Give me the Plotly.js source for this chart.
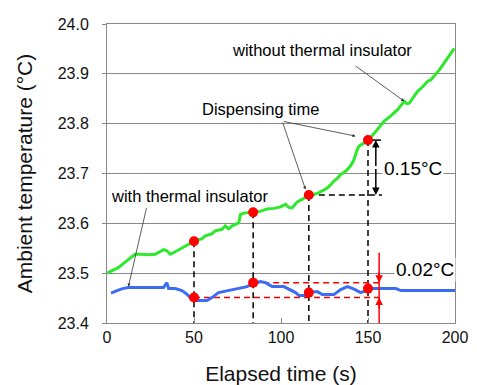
<!DOCTYPE html>
<html>
<head>
<meta charset="utf-8">
<script src="https://cdn.plot.ly/plotly-3.0.1.min.js"></script>
<style>html,body{margin:0;padding:0;background:#fff;}#chart{width:477px;height:385px;}</style>
</head>
<body>
<div id="chart"></div>
<script>
// ---- data ----
const greenTime = [0,3,6.5,9,12.3,16.1,20,24,27.7,30.5,32.5,34.4,36.3,38.2,40.2,43,46.9,50,54.6,56.5,60.3,62.2,66.1,68,69.9,71.9,75.7,76.7,79.5,84,88,92,96,99.7,102.6,104.5,106.4,109.3,112.2,115.5,118,120.9,123.7,126.6,128.5,130.4,132.3,134.3,136.2,138.2,140.1,142,143.5,144.8,147.7,150,152.7,155.4,159.3,163,167,170.8,172.3,173.7,176,178.5,181.4,184.3,186.2,188.6,191,195,199.6];
const greenTemp = [23.500,23.505,23.511,23.518,23.528,23.538,23.538,23.537,23.538,23.543,23.547,23.545,23.538,23.541,23.545,23.551,23.558,23.564,23.569,23.575,23.579,23.585,23.588,23.595,23.589,23.595,23.601,23.618,23.621,23.622,23.624,23.629,23.630,23.633,23.638,23.632,23.631,23.643,23.648,23.656,23.658,23.660,23.665,23.671,23.677,23.685,23.690,23.698,23.702,23.708,23.716,23.728,23.745,23.755,23.761,23.767,23.777,23.788,23.805,23.815,23.828,23.845,23.840,23.841,23.852,23.865,23.874,23.885,23.888,23.897,23.908,23.928,23.951];

const blueTime = [2.3,4,6.5,9,12.3,20,28,32.5,34.4,35.4,39.2,43,45.9,47.8,50,51.7,57.5,60.3,64.1,69.9,73.8,76.7,80.5,84.3,88.2,91.1,94.9,101.6,104.5,108.4,110.3,114.1,115.8,120.9,123.7,130.4,134.3,138.2,142,145.8,148.7,150.4,157.3,166,168.9,200];
const blueTemp = [23.460,23.463,23.466,23.469,23.471,23.471,23.471,23.471,23.481,23.469,23.469,23.465,23.458,23.451,23.451,23.445,23.445,23.451,23.461,23.465,23.468,23.471,23.473,23.480,23.483,23.481,23.473,23.473,23.468,23.461,23.455,23.455,23.461,23.463,23.457,23.457,23.467,23.473,23.468,23.461,23.465,23.469,23.469,23.469,23.465,23.465];

const dispenseTimes = [50, 84, 116, 150];
const greenDots = [23.564, 23.622, 23.657, 23.767];
const blueDots = [23.451, 23.481, 23.461, 23.469];

const xTicks = [0, 50, 100, 150, 200];
const yTicks = [23.4, 23.5, 23.6, 23.7, 23.8, 23.9, 24.0];
const yMin = 23.4, yMax = 24.0;
const spanEnd = 157.5;     // end of the span markers (s)
const markerX = 154.5;     // 0.15 deg arrow position
const redX = 156.4;        // 0.02 deg arrow position

// ---- traces ----
const FONT = '"Liberation Sans", Arial, Helvetica, sans-serif';
const traces = [];

// black dashed verticals from green dots down to axis
dispenseTimes.forEach((t, i) => {
  traces.push({x:[t,t], y:[greenDots[i], yMin], mode:'lines', line:{color:'#000', width:1.5, dash:'6px,4px'}, hoverinfo:'skip', showlegend:false});
});
// black dashed horizontal from 3rd green dot
traces.push({x:[dispenseTimes[2], spanEnd+0.5], y:[greenDots[2], greenDots[2]], mode:'lines', line:{color:'#000', width:1.5, dash:'6px,4px'}, showlegend:false});
// red dashed horizontals
const blueMax = Math.max(...blueDots), blueMin = Math.min(...blueDots);
traces.push({x:[dispenseTimes[blueDots.indexOf(blueMax)], spanEnd+0.5], y:[blueMax, blueMax], mode:'lines', line:{color:'#ff0000', width:1.5, dash:'6px,4px'}, showlegend:false});
traces.push({x:[dispenseTimes[blueDots.indexOf(blueMin)], spanEnd+0.5], y:[blueMin, blueMin], mode:'lines', line:{color:'#ff0000', width:1.5, dash:'6px,4px'}, showlegend:false});

// series
traces.push({x:greenTime, y:greenTemp, mode:'lines', line:{color:'#2ee82e', width:3}, showlegend:false});
traces.push({x:blueTime, y:blueTemp, mode:'lines', line:{color:'#3a6cf4', width:3}, showlegend:false});

// red vertical line
traces.push({x:[redX, redX], y:[23.541, 23.398], mode:'lines', line:{color:'#ff0000', width:1.5}, showlegend:false, cliponaxis:false});
// black caps at top of 0.15 span
traces.push({x:[markerX-2.5, markerX+3], y:[greenDots[3], greenDots[3]], mode:'lines', line:{color:'#000', width:1.5}, showlegend:false});

// red dots
traces.push({x:dispenseTimes, y:greenDots, mode:'markers', marker:{color:'#ff0000', size:10}, showlegend:false});
traces.push({x:dispenseTimes, y:blueDots, mode:'markers', marker:{color:'#ff0000', size:10}, showlegend:false});

// ---- annotations ----
const tf = {family:FONT, size:16.5, color:'#000'};
const big = {family:FONT, size:19, color:'#000'};
const annotations = [
  {x:123.7, y:23.947, xref:'x', yref:'y', text:'without thermal insulator', showarrow:false, font:tf},
  {x:88.2, y:23.829, xref:'x', yref:'y', text:'Dispensing time', showarrow:false, font:tf},
  {x:47.3, y:23.655, xref:'x', yref:'y', text:'with thermal insulator', showarrow:false, font:tf},
  {x:175.8, y:23.711, xref:'x', yref:'y', text:'0.15°C', showarrow:false, font:big, bgcolor:'#fff'},
  {x:182.7, y:23.508, xref:'x', yref:'y', text:'0.02°C', showarrow:false, font:big, bgcolor:'#fff'},
  // thin pointer arrows
  {x:170.8, y:23.845, ax:142, ay:23.918, axref:'x', ayref:'y', xref:'x', yref:'y', text:'', showarrow:true, arrowhead:2, arrowsize:0.8, arrowwidth:0.8, arrowcolor:'#333', standoff:0},
  {x:142.9, y:23.775, ax:100.7, ay:23.805, axref:'x', ayref:'y', xref:'x', yref:'y', text:'', showarrow:true, arrowhead:2, arrowsize:0.8, arrowwidth:0.8, arrowcolor:'#333', standoff:0},
  {x:114.1, y:23.668, ax:100.7, ay:23.805, axref:'x', ayref:'y', xref:'x', yref:'y', text:'', showarrow:true, arrowhead:2, arrowsize:0.8, arrowwidth:0.8, arrowcolor:'#333', standoff:0},
  {x:12.3, y:23.473, ax:22.9, ay:23.634, axref:'x', ayref:'y', xref:'x', yref:'y', text:'', showarrow:true, arrowhead:2, arrowsize:0.8, arrowwidth:0.8, arrowcolor:'#333', standoff:0},
  // 0.15 double arrow
  {x:markerX, y:greenDots[3], ax:markerX, ay:(greenDots[3]+greenDots[2])/2, axref:'x', ayref:'y', xref:'x', yref:'y', text:'', showarrow:true, arrowhead:2, arrowsize:1, arrowwidth:1.5, arrowcolor:'#000', standoff:0},
  {x:markerX, y:greenDots[2], ax:markerX, ay:(greenDots[3]+greenDots[2])/2, axref:'x', ayref:'y', xref:'x', yref:'y', text:'', showarrow:true, arrowhead:2, arrowsize:1, arrowwidth:1.5, arrowcolor:'#000', standoff:0},
  // red arrows
  {x:redX, y:blueMax, ax:redX, ay:blueMax+0.025, axref:'x', ayref:'y', xref:'x', yref:'y', text:'', showarrow:true, arrowhead:2, arrowsize:1, arrowwidth:1.5, arrowcolor:'#ff0000', standoff:0},
  {x:redX, y:blueMin, ax:redX, ay:blueMin-0.025, axref:'x', ayref:'y', xref:'x', yref:'y', text:'', showarrow:true, arrowhead:2, arrowsize:1, arrowwidth:1.5, arrowcolor:'#ff0000', standoff:0}
];

const layout = {
  width:477, height:385,
  margin:{l:107, r:22, t:24, b:62},
  paper_bgcolor:'#fff', plot_bgcolor:'#fff',
  font:{family:FONT, color:'#111'},
  showlegend:false,
  xaxis:{range:[0,200], tickvals:xTicks, ticks:'inside', ticklen:5, tickcolor:'#888',
         showgrid:false, zeroline:false, showline:true, mirror:true, linecolor:'#888', linewidth:1,
         tickfont:{size:16, family:FONT, color:'#111'}, automargin:false,
         title:{text:'Elapsed time (s)', font:{size:21, family:FONT, color:'#111'}, standoff:26}},
  yaxis:{range:[yMin,yMax], tickvals:yTicks, tickformat:'.1f', ticks:'outside', ticklen:4, tickcolor:'#888',
         ticklabelstandoff:10,
         showgrid:true, gridcolor:'#888', gridwidth:1, zeroline:false, showline:true, mirror:true, linecolor:'#888', linewidth:1,
         tickfont:{size:16, family:FONT, color:'#111'}, automargin:false,
         title:{text:'Ambient temperature (°C)', font:{size:21, family:FONT, color:'#111'}, standoff:19}},
  annotations:annotations
};

Plotly.newPlot('chart', traces, layout, {staticPlot:true, displayModeBar:false});
</script>
</body>
</html>
